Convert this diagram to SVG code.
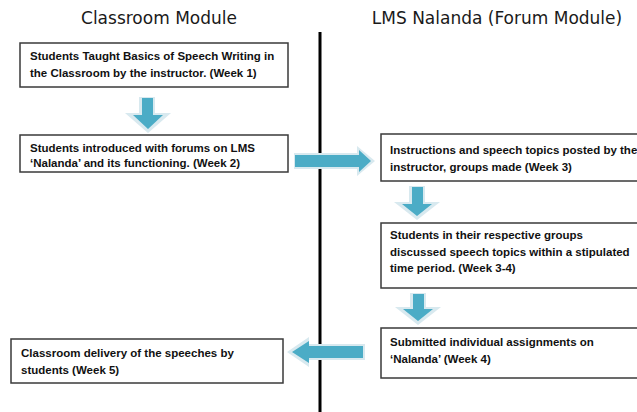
<svg xmlns="http://www.w3.org/2000/svg" width="637" height="412" viewBox="0 0 637 412">
<style>
.hdr{font-family:"DejaVu Sans","Liberation Sans",sans-serif;font-size:17px;fill:#1a1a1a;text-anchor:middle}
.box{fill:#fff;stroke:#3a3a3a;stroke-width:1.5}
.t{font-family:"Liberation Sans",Arial,sans-serif;font-size:11.5px;font-weight:bold;fill:#111}
.pale{fill:#d8e9ef}
.arr{fill:#4bacc6}
</style>
<rect width="637" height="412" fill="#fff"/>
<text class="hdr" x="159" y="24">Classroom Module</text>
<text class="hdr" x="497" y="24">LMS Nalanda (Forum Module)</text>
<line x1="320" y1="32" x2="320" y2="412" stroke="#000" stroke-width="3"/>
<g id="connectors">
<g>
<polygon class="pale" points="139,97 155,97 155,113 171,113 148,133 125,113 139,113"/>
<polygon class="arr" points="142,98 153,98 153,115 163,115 148,129 133,115 142,115"/>
</g>
<g>
<polygon class="pale" points="294,153 357,153 357,146 375,161 357,176 357,169 294,169"/>
<polygon class="arr" points="295,155 359,155 359,150 371,161 359,172 359,167 295,167"/>
</g>
<g>
<polygon class="pale" points="409,186 425,186 425,202 440,202 417,220 394,202 409,202"/>
<polygon class="arr" points="412,187 423,187 423,204 432,204 417,216 402,204 412,204"/>
</g>
<g>
<polygon class="pale" points="410,293 426,293 426,307 441,307 418,325 395,307 410,307"/>
<polygon class="arr" points="413,294 424,294 424,309 433,309 418,321 403,309 413,309"/>
</g>
<g>
<polygon class="pale" points="365,344 309,344 309,337 287,352 309,367 309,360 365,360"/>
<polygon class="arr" points="363,346 309,346 309,341 292,352 309,363 309,358 363,358"/>
</g>
</g>
<g id="n1"><rect class="box" x="20" y="43" width="268" height="44"/>
<text class="t" x="30" y="60">Students Taught Basics of Speech Writing in</text>
<text class="t" x="30" y="77">the Classroom by the instructor. (Week 1)</text></g>
<g id="n2"><rect class="box" x="20" y="135" width="268" height="37"/>
<text class="t" x="30" y="152">Students introduced with forums on LMS</text>
<text class="t" x="30" y="167">‘Nalanda’ and its functioning. (Week 2)</text></g>
<g id="n3"><rect class="box" x="381" y="134" width="260" height="47"/>
<text class="t" x="390" y="154">Instructions and speech topics posted by the</text>
<text class="t" x="390" y="171">instructor, groups made (Week 3)</text></g>
<g id="n4"><rect class="box" x="381" y="223" width="260" height="65"/>
<text class="t" x="390" y="239">Students in their respective groups</text>
<text class="t" x="390" y="256">discussed speech topics within a stipulated</text>
<text class="t" x="390" y="272">time period. (Week 3-4)</text></g>
<g id="n5"><rect class="box" x="381" y="328" width="260" height="50"/>
<text class="t" x="390" y="346">Submitted individual assignments on</text>
<text class="t" x="390" y="363">‘Nalanda’ (Week 4)</text></g>
<g id="n6"><rect class="box" x="11" y="339" width="272" height="44"/>
<text class="t" x="21" y="357">Classroom delivery of the speeches by</text>
<text class="t" x="21" y="374">students (Week 5)</text></g>
</svg>
